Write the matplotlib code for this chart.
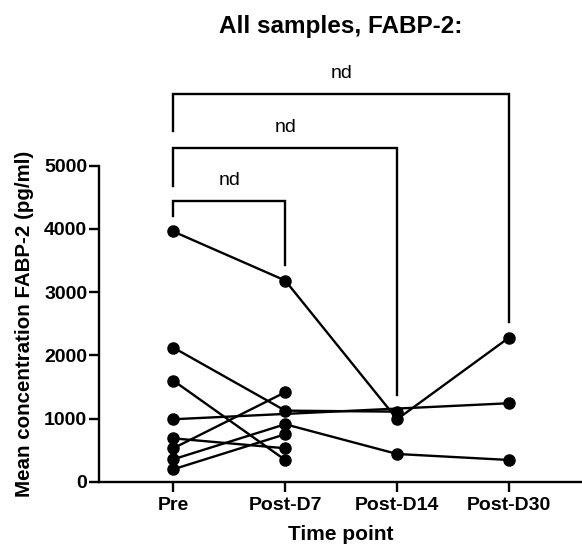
import matplotlib
matplotlib.use("Agg")
import matplotlib.pyplot as plt
import numpy as np

plt.rcParams['font.family'] = ['Liberation Sans', 'DejaVu Sans']

time_points = ["Pre", "Post-D7", "Post-D14", "Post-D30"]

# one row per sample, nan = not measured
subject_1 = [3960, 3185, 992, 2283]
subject_2 = [2125, 1128, 1112, np.nan]
subject_3 = [1603, 348, np.nan, np.nan]
subject_4 = [992, np.nan, np.nan, 1245]
subject_5 = [690, 533, np.nan, np.nan]
subject_6 = [533, 1419, np.nan, np.nan]
subject_7 = [359, 913, 443, 348]
subject_8 = [201, 755, np.nan, np.nan]
subjects = [subject_1, subject_2, subject_3, subject_4,
            subject_5, subject_6, subject_7, subject_8]

# comparison brackets: (from, to, top, left leg end, right leg end, label)
brackets = [
    (0, 1, 4435, 4198, 3434, "nd"),
    (0, 2, 5280, 4684, 1377, "nd"),
    (0, 3, 6134, 5543, 2536, "nd"),
]

fig = plt.figure(figsize=(5.82, 5.48), dpi=100)
ax = fig.add_axes([99 / 582, 1 - 482 / 548, 483 / 582, (482 - 165.7) / 548])

x = np.arange(len(time_points))
for s in subjects:
    s = np.array(s, dtype=float)
    m = ~np.isnan(s)
    ax.plot(x[m], s[m], color='black', lw=1.7, marker='o', ms=8,
            solid_capstyle='round', clip_on=False, zorder=3)

for a, b, top, yl, yr, lab in brackets:
    ax.plot([a, a, b, b], [yl, top, top, yr], color='black', lw=1.7,
            clip_on=False, solid_joinstyle='miter')
    ax.text((a + b) / 2, top + 190, lab, ha='center', va='bottom',
            fontsize=14)

ax.set_xlim(-0.664, 3.652)
ax.set_ylim(0, 5000)
ax.set_xticks(x)
ax.set_xticklabels(time_points, fontweight='bold', fontsize=14)
ax.set_yticks([0, 1000, 2000, 3000, 4000, 5000])
for lbl in ax.get_yticklabels():
    lbl.set_fontweight('bold')
    lbl.set_fontsize(14)

ax.spines['top'].set_visible(False)
ax.spines['right'].set_visible(False)
ax.spines['left'].set_linewidth(1.7)
ax.spines['bottom'].set_linewidth(1.7)
ax.tick_params(axis='both', length=7, width=1.7)
ax.tick_params(axis='y', pad=1.5)
ax.tick_params(axis='x', pad=4)

ax.set_xlabel("Time point", fontweight='bold', fontsize=15, labelpad=8)
ax.set_ylabel("Mean concentration FABP-2 (pg/ml)", fontweight='bold',
              fontsize=14.8, labelpad=7)
fig.text(341 / 582, 1 - 26 / 548, "All samples, FABP-2:", ha='center',
         va='center', fontweight='bold', fontsize=17.5)

fig.savefig("out.png", dpi=100)
